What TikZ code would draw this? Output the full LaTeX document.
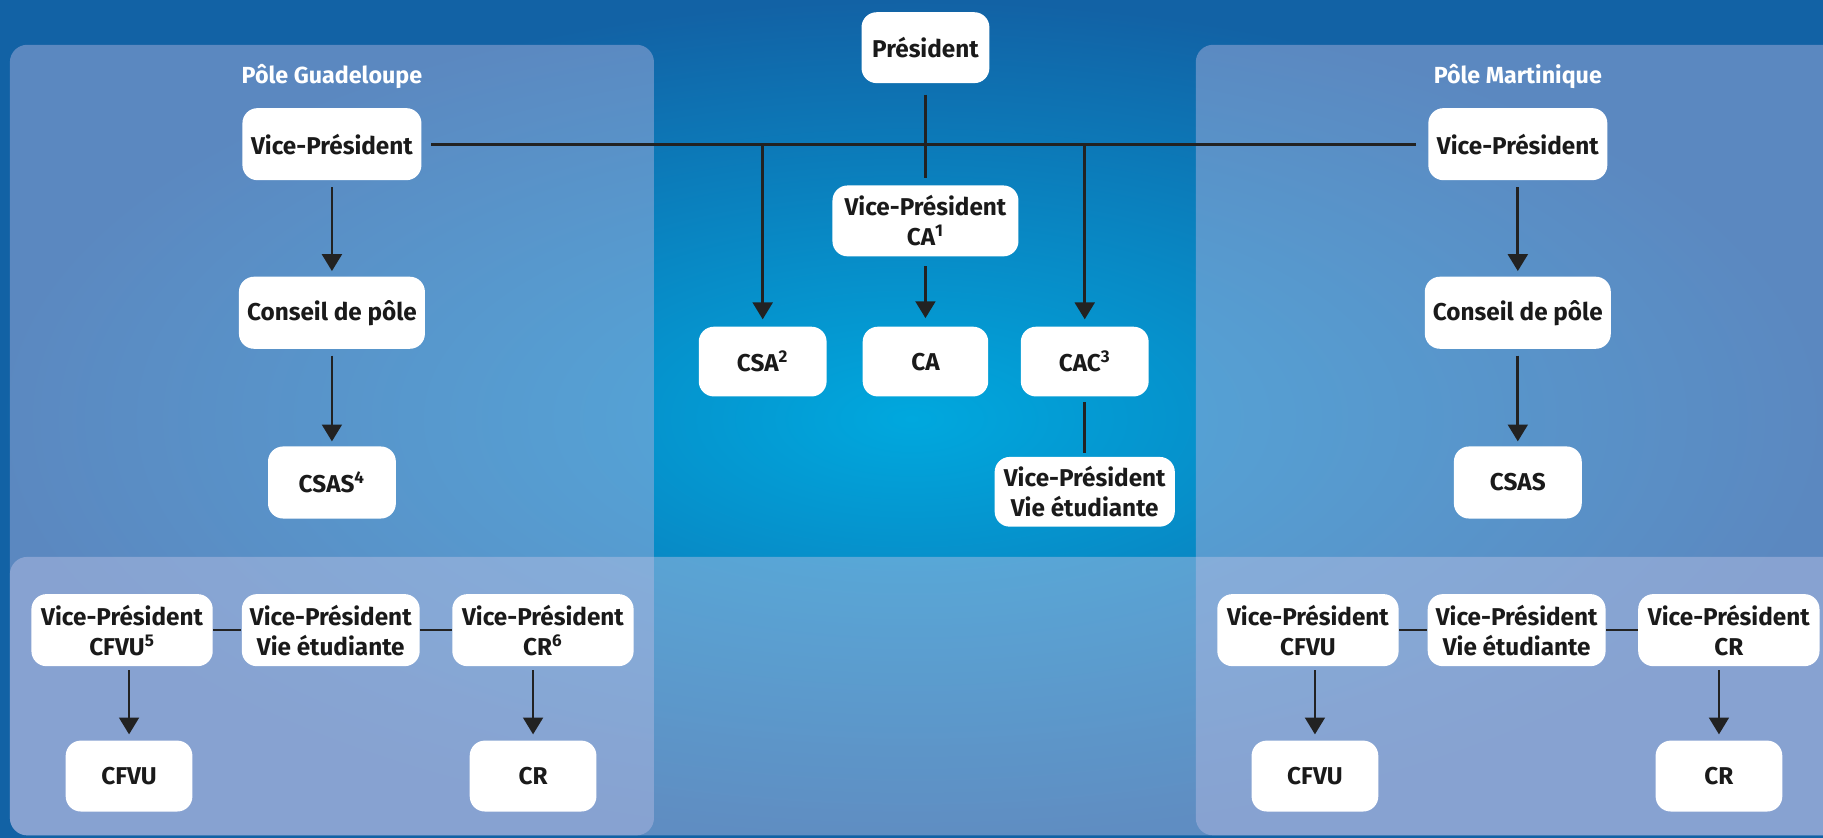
\documentclass[tikz,border=0pt]{standalone}
\usepackage{fontspec}
\setmainfont{Fira Sans}
\usetikzlibrary{arrows.meta}
\definecolor{bgin}{RGB}{0,168,222}
\definecolor{bgout}{RGB}{18,98,165}
\definecolor{panelc}{RGB}{165,175,220}
\definecolor{bandc}{RGB}{190,195,230}
\definecolor{inkc}{RGB}{26,26,26}
\definecolor{linec}{RGB}{34,34,34}
\tikzset{
  box/.style={fill=white, rounded corners=0.26cm, inner sep=0pt, align=center,
    text=inkc, font=\bfseries\fontsize{11.9}{14.7}\selectfont},
  ln/.style={draw=linec, line width=0.046cm},
  arr/.style={ln, -{Triangle[width=0.34cm,length=0.29cm]}},
  polelabel/.style={text=white, font=\bfseries\fontsize{11.4}{14}\selectfont, inner sep=0pt},
  panel/.style={fill=panelc, fill opacity=0.5, rounded corners=0.3cm},
  band/.style={fill=bandc, fill opacity=0.45, rounded corners=0.3cm}
}
\begin{document}
\begin{tikzpicture}[x=0.02cm, y=-0.02cm]
\useasboundingbox (0,0) rectangle (1568,720);
\begin{scope}
\clip (0,0) rectangle (1568,720);
\shade[inner color=bgin, outer color=bgout] (0,0) rectangle (1568,720);
\fill[panel] (8.5,38.5) rectangle (562.5,718.5);
\fill[panel] (1028.5,38.5) rectangle (1582.5,718.5);
\fill[band] (8.5,479) rectangle (1582.5,718.5);
\end{scope}

% labels
\node[polelabel] (lblG) at (285.5,66) {Pôle Guadeloupe};
\node[polelabel] (lblM) at (1305.5,66) {Pôle Martinique};

% centre
\node[box, minimum width=2.2cm, minimum height=1.22cm] (pres) at (796,41) {Président};
\node[box, minimum width=3.2cm, minimum height=1.22cm] (vpca) at (796,190) {Vice-Président\\CA\textsuperscript{1}};
\node[box, minimum width=2.2cm, minimum height=1.2cm] (csa) at (656,311) {CSA\textsuperscript{2}};
\node[box, minimum width=2.16cm, minimum height=1.2cm] (ca) at (796,311) {CA};
\node[box, minimum width=2.2cm, minimum height=1.2cm] (cac) at (933,311) {CAC\textsuperscript{3}};
\node[box, minimum width=3.1cm, minimum height=1.2cm] (vpve) at (933,423) {Vice-Président\\Vie étudiante};

% Guadeloupe
\node[box, minimum width=3.08cm, minimum height=1.24cm] (vpG) at (285.5,124) {Vice-Président};
\node[box, minimum width=3.2cm, minimum height=1.24cm] (cpG) at (285.5,269) {Conseil de pôle};
\node[box, minimum width=2.2cm, minimum height=1.24cm] (csasG) at (285.5,415) {CSAS\textsuperscript{4}};
\node[box, minimum width=3.12cm, minimum height=1.24cm] (gcfvu1) at (105,542) {Vice-Président\\CFVU\textsuperscript{5}};
\node[box, minimum width=3.06cm, minimum height=1.24cm] (gve) at (284.5,542) {Vice-Président\\Vie étudiante};
\node[box, minimum width=3.12cm, minimum height=1.24cm] (gcr1) at (467,542) {Vice-Président\\CR\textsuperscript{6}};
\node[box, minimum width=2.18cm, minimum height=1.22cm] (gcfvu) at (111,667.5) {CFVU};
\node[box, minimum width=2.18cm, minimum height=1.22cm] (gcr) at (458.5,667.5) {CR};

% Martinique
\node[box, minimum width=3.08cm, minimum height=1.24cm] (vpM) at (1305.5,124) {Vice-Président};
\node[box, minimum width=3.2cm, minimum height=1.24cm] (cpM) at (1305.5,269) {Conseil de pôle};
\node[box, minimum width=2.2cm, minimum height=1.24cm] (csasM) at (1305.5,415) {CSAS};
\node[box, minimum width=3.12cm, minimum height=1.24cm] (mcfvu1) at (1125,542) {Vice-Président\\CFVU};
\node[box, minimum width=3.06cm, minimum height=1.24cm] (mve) at (1304.5,542) {Vice-Président\\Vie étudiante};
\node[box, minimum width=3.12cm, minimum height=1.24cm] (mcr1) at (1487,542) {Vice-Président\\CR};
\node[box, minimum width=2.18cm, minimum height=1.22cm] (mcfvu) at (1131,667.5) {CFVU};
\node[box, minimum width=2.18cm, minimum height=1.22cm] (mcr) at (1478.5,667.5) {CR};

% connectors
\draw[ln, shorten <=0.19cm, shorten >=0.12cm] (pres.south) -- (vpca.north);
\draw[ln, shorten <=0.16cm, shorten >=0.2cm] (vpG.east) -- (vpM.west);
\draw[arr, shorten >=0.12cm] (vpG.east -| csa.north) -- (csa.north);
\draw[arr, shorten >=0.12cm] (vpG.east -| cac.north) -- (cac.north);
\draw[arr, shorten <=0.16cm, shorten >=0.14cm] (vpca.south) -- (ca.north);
\draw[ln, shorten <=0.09cm, shorten >=0.06cm] (cac.south) -- (vpve.north);

\draw[arr, shorten <=0.11cm, shorten >=0.09cm] (vpG.south) -- (cpG.north);
\draw[arr, shorten <=0.11cm, shorten >=0.08cm] (cpG.south) -- (csasG.north);
\draw[ln] (gcfvu1.east) -- (gve.west);
\draw[ln] (gve.east) -- (gcr1.west);
\draw[arr, shorten <=0.06cm, shorten >=0.1cm] (gcfvu.north |- gcfvu1.south) -- (gcfvu.north);
\draw[arr, shorten <=0.06cm, shorten >=0.1cm] (gcr.north |- gcr1.south) -- (gcr.north);

\draw[arr, shorten <=0.11cm, shorten >=0.09cm] (vpM.south) -- (cpM.north);
\draw[arr, shorten <=0.11cm, shorten >=0.08cm] (cpM.south) -- (csasM.north);
\draw[ln] (mcfvu1.east) -- (mve.west);
\draw[ln] (mve.east) -- (mcr1.west);
\draw[arr, shorten <=0.06cm, shorten >=0.1cm] (mcfvu.north |- mcfvu1.south) -- (mcfvu.north);
\draw[arr, shorten <=0.06cm, shorten >=0.1cm] (mcr.north |- mcr1.south) -- (mcr.north);
\end{tikzpicture}
\end{document}
